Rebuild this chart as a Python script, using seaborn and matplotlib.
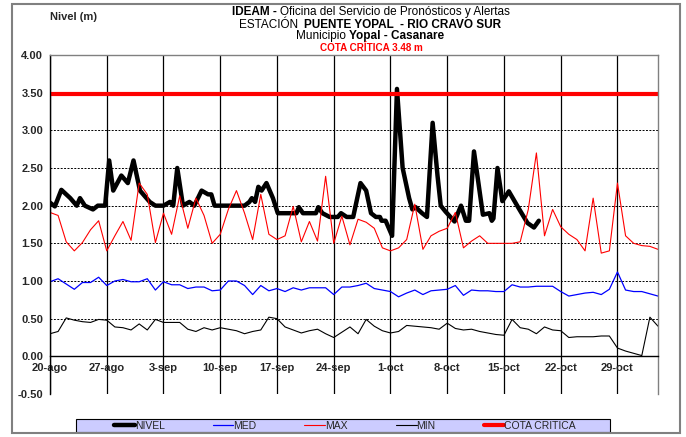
import matplotlib
matplotlib.use("Agg")
import matplotlib.pyplot as plt
import seaborn as sns
import pandas as pd
from matplotlib.patches import Rectangle


# =========================================================
# DATA
# =========================================================

tick_days = [0, 7, 14, 21, 28, 35, 42, 49, 56, 63, 70]
tick_labels = ["20-ago", "27-ago", "3-sep", "10-sep", "17-sep", "24-sep",
               "1-oct", "8-oct", "15-oct", "22-oct", "29-oct"]

days = list(range(76))

max_vals = [1.91, 1.87, 1.52, 1.40, 1.51, 1.68, 1.80, 1.40, 1.60, 1.79,
            1.54, 2.30, 2.15, 1.51, 1.90, 1.62, 2.13, 1.70, 2.10, 1.87,
            1.50, 1.62, 1.95, 2.20, 1.90, 1.55, 2.15, 1.62, 1.55, 1.60,
            1.99, 1.52, 1.79, 1.53, 2.39, 1.50, 1.86, 1.48, 1.82, 1.78,
            1.70, 1.44, 1.40, 1.44, 1.55, 2.02, 1.42, 1.60, 1.66, 1.70,
            1.91, 1.44, 1.53, 1.60, 1.50, 1.50, 1.50, 1.50, 1.52, 1.95,
            2.70, 1.60, 1.95, 1.72, 1.62, 1.55, 1.40, 2.10, 1.37, 1.40,
            2.30, 1.60, 1.50, 1.47, 1.46, 1.42]

med_vals = [0.99, 1.03, 0.96, 0.89, 0.98, 0.98, 1.05, 0.94, 1.00, 1.02,
            0.99, 0.99, 1.03, 0.88, 0.99, 0.95, 0.95, 0.90, 0.92, 0.92,
            0.87, 0.88, 1.00, 1.00, 0.94, 0.82, 0.94, 0.87, 0.90, 0.86,
            0.91, 0.88, 0.91, 0.91, 0.91, 0.82, 0.92, 0.92, 0.94, 0.97,
            0.90, 0.88, 0.86, 0.79, 0.84, 0.88, 0.82, 0.87, 0.88, 0.89,
            0.94, 0.81, 0.88, 0.87, 0.87, 0.86, 0.86, 0.95, 0.92, 0.92,
            0.93, 0.93, 0.93, 0.86, 0.80, 0.82, 0.84, 0.85, 0.82, 0.89,
            1.12, 0.88, 0.86, 0.86, 0.83, 0.80]

min_vals = [0.30, 0.33, 0.51, 0.48, 0.46, 0.45, 0.49, 0.48, 0.39, 0.38,
            0.35, 0.43, 0.35, 0.49, 0.45, 0.45, 0.45, 0.36, 0.33, 0.38,
            0.35, 0.38, 0.36, 0.34, 0.30, 0.33, 0.35, 0.52, 0.50, 0.39,
            0.35, 0.31, 0.34, 0.36, 0.30, 0.25, 0.32, 0.39, 0.30, 0.49,
            0.40, 0.34, 0.31, 0.33, 0.41, 0.40, 0.39, 0.38, 0.36, 0.44,
            0.37, 0.35, 0.36, 0.33, 0.31, 0.29, 0.28, 0.49, 0.38, 0.36,
            0.30, 0.39, 0.35, 0.34, 0.25, 0.26, 0.26, 0.26, 0.27, 0.27,
            0.11, 0.07, 0.04, 0.01, 0.52, 0.40]

# observed levels (irregular readings)
nivel_days = [0, 0.6, 1.4, 2.5, 3.3, 3.7, 4.3, 5.3, 5.9, 6.8,
              7.3, 7.8, 8.8, 9.6, 10.3, 11.1, 12.3, 13.0, 14.0, 14.8,
              15.2, 15.7, 16.4, 17.2, 17.8, 18.7, 19.5, 19.9, 20.3, 24.0,
              24.6, 24.9, 25.3, 25.7, 26.1, 26.7, 27.5, 28.1, 30.4, 30.7,
              31.2, 32.8, 33.1, 33.6, 34.5, 35.5, 35.9, 36.6, 37.4, 38.3,
              39.0, 39.6, 40.2, 40.7, 40.9, 41.4, 42.2, 42.8, 43.5, 44.3,
              44.7, 45.1, 45.9, 46.5, 47.2, 47.8, 48.2, 48.8, 49.9, 50.7,
              51.3, 51.7, 52.3, 53.4, 54.2, 54.5, 54.7, 55.2, 55.8, 56.6,
              57.9, 58.9, 59.7, 60.3]
nivel_vals = [2.04, 1.99, 2.21, 2.10, 2.00, 2.10, 2.00, 1.95, 2.00, 2.00,
              2.60, 2.20, 2.40, 2.30, 2.60, 2.20, 2.05, 2.00, 2.00, 2.05,
              2.00, 2.50, 2.00, 2.05, 2.00, 2.20, 2.15, 2.15, 2.00, 2.00,
              2.05, 2.10, 2.05, 2.25, 2.20, 2.30, 2.10, 1.90, 1.90, 1.98,
              1.90, 1.90, 1.98, 1.90, 1.85, 1.85, 1.90, 1.85, 1.85, 2.30,
              2.20, 1.90, 1.85, 1.85, 1.80, 1.80, 1.60, 3.55, 2.50, 2.10,
              1.95, 1.98, 1.90, 1.85, 3.10, 2.40, 2.00, 1.92, 1.79, 2.00,
              1.80, 1.80, 2.72, 1.88, 1.90, 1.80, 1.83, 2.50, 2.06, 2.19,
              1.95, 1.77, 1.71, 1.80]

cota_critica = 3.48

df = pd.DataFrame({"day": days, "MED": med_vals, "MAX": max_vals, "MIN": min_vals})
df_nivel = pd.DataFrame({"day": nivel_days, "NIVEL": nivel_vals})


# =========================================================
# FIGURE
# =========================================================

sns.set_style("white")
plt.rcParams["font.family"] = ["Liberation Sans", "DejaVu Sans"]

W, H = 686, 437
fig = plt.figure(figsize=(W / 100, H / 100), dpi=100)
ax = fig.add_axes([50 / W, 1 - 394 / H, 608 / W, 339 / H])

sns.lineplot(data=df_nivel, x="day", y="NIVEL", ax=ax, color="black",
             linewidth=3.2, label="NIVEL")
sns.lineplot(data=df, x="day", y="MED", ax=ax, color="#0000ff",
             linewidth=0.9, label="MED")
sns.lineplot(data=df, x="day", y="MAX", ax=ax, color="#ff0000",
             linewidth=0.8, label="MAX")
sns.lineplot(data=df, x="day", y="MIN", ax=ax, color="black",
             linewidth=0.8, label="MIN")
ax.axhline(cota_critica, color="#ff0000", linewidth=3, label="COTA CRITICA")

ax.set_xlim(0, 75)
ax.set_ylim(-0.5, 4.0)

# horizontal dashed gridlines, vertical solid gridlines
for yv in [-0.5, 0.5, 1.0, 1.5, 2.0, 2.5, 3.0, 3.5, 4.0]:
    ax.axhline(yv, color="black", linestyle=(0, (2, 1.5)), linewidth=0.7, zorder=0)
for xv in tick_days:
    ax.axvline(xv, color="black", linewidth=0.9, zorder=0)

# category axis crosses at zero (set before tick labels: this resets ticks)
ax.spines["bottom"].set_position(("data", 0))
ax.spines["bottom"].set_color("black")
ax.spines["bottom"].set_linewidth(1.0)
ax.spines["left"].set_color("black")
ax.spines["left"].set_linewidth(1.0)
for side in ["top", "right"]:
    ax.spines[side].set_color("#808080")
    ax.spines[side].set_linewidth(1.0)

ax.set_xticks(tick_days)
ax.set_xticklabels(tick_labels, fontsize=8, fontweight="bold")
yt = [-0.5, 0, 0.5, 1.0, 1.5, 2.0, 2.5, 3.0, 3.5, 4.0]
ax.set_yticks(yt)
ax.set_yticklabels([f"{v:.2f}" for v in yt], fontsize=8, fontweight="bold")
ax.tick_params(axis="both", length=3, width=0.8, color="black", pad=2)

ax.set_xlabel("")
ax.set_ylabel("")


# =========================================================
# TITLES (mixed bold / regular pieces)
# =========================================================

renderer = fig.canvas.get_renderer()


def rich_line(pieces, xc, y, size, color="black"):
    texts = []
    for s, weight in pieces:
        t = fig.text(0, y, s, fontsize=size, fontweight=weight, color=color,
                     va="center", ha="left", transform=None)
        texts.append(t)
    widths = [t.get_window_extent(renderer).width for t in texts]
    x = xc - sum(widths) / 2
    for t, w in zip(texts, widths):
        t.set_position((x, y))
        x += w


title_size = 8.5
rich_line([("IDEAM - ", "bold"),
           ("Oficina del Servicio de Pronósticos y Alertas", "normal")],
          371, H - 12, title_size)
rich_line([("ESTACIÓN  ", "normal"),
           ("PUENTE YOPAL  - RIO CRAVO SUR", "bold")],
          370, H - 25, title_size)
rich_line([("Municipio ", "normal"), ("Yopal - Casanare", "bold")],
          370, H - 36, title_size)
rich_line([("COTA CRÍTICA 3.48 m", "bold")], 371, H - 48, 7.1, color="#ff0000")

fig.text(50 / W, 1 - 17 / H, "Nivel (m)", fontsize=8, fontweight="bold",
         va="center", ha="left")


# =========================================================
# LEGEND
# =========================================================

handles, labels = ax.get_legend_handles_labels()
if ax.get_legend() is not None:
    ax.get_legend().remove()

fig.patches.append(Rectangle((76 / W, 1 - 432 / H), 534 / W, 13 / H,
                             transform=fig.transFigure, facecolor="#ccccff",
                             edgecolor="black", linewidth=0.8, zorder=1))
leg = fig.legend(handles, labels, ncol=5, loc="center",
                 bbox_to_anchor=(345 / W, 1 - 426 / H),
                 fontsize=7.5, frameon=False, handlelength=2.0,
                 handletextpad=0.0, columnspacing=4.6, borderpad=0,
                 borderaxespad=0)
leg.set_zorder(5)

# outer frame
fig.patches.append(Rectangle((12 / W, 1 - 433 / H), 668 / W, 429 / H,
                             transform=fig.transFigure, fill=False,
                             edgecolor="#808080", linewidth=1.5))

fig.savefig("out.png", dpi=100)
